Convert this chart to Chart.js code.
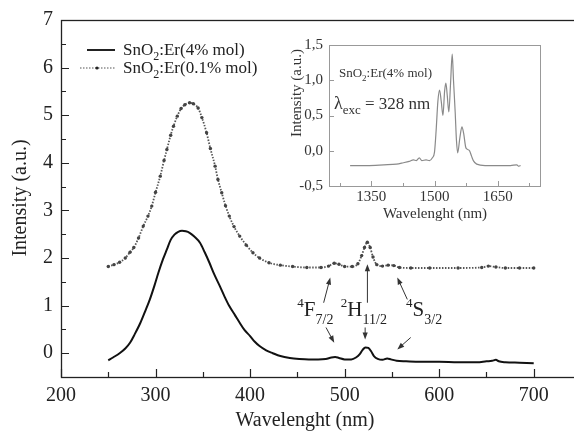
<!DOCTYPE html>
<html>
<head>
<meta charset="utf-8">
<script src="https://cdn.jsdelivr.net/npm/chart.js@4.4.1/dist/chart.umd.min.js"></script>
<style>
  html, body { margin: 0; padding: 0; background: #fff; overflow: hidden; }
  #wrap { position: relative; width: 574px; height: 431px; overflow: hidden; }
  #mainChart { position: absolute; left: 0; top: 0; }
  #insetChart { position: absolute; left: 290px; top: 30px; }
</style>
</head>
<body>
<div id="wrap">
  <canvas id="mainChart" width="585" height="431"></canvas>
  <canvas id="insetChart" width="262" height="195"></canvas>
</div>
<script>
// values
const wl4 = [250, 255, 262, 268, 273, 278, 284, 289, 294, 299, 303, 308, 312, 316, 320, 324, 328, 332, 336, 341,
  347, 352, 357, 362, 368, 373, 378, 384, 389, 394, 400, 405, 410, 417, 424, 432, 442, 452, 462, 472,
  480, 486, 490, 494, 500, 507, 512, 516, 519, 522, 525, 528, 531, 535, 540, 545, 549, 555, 565, 580,
  600, 620, 640, 650, 656, 660, 663, 670, 685, 700];
const int4 = [-0.15, -0.09, 0.00, 0.10, 0.22, 0.40, 0.64, 0.88, 1.13, 1.43, 1.69, 1.98, 2.18, 2.38, 2.49, 2.55, 2.57, 2.56, 2.53, 2.45,
  2.32, 2.12, 1.90, 1.66, 1.41, 1.19, 0.99, 0.80, 0.64, 0.49, 0.36, 0.24, 0.15, 0.06, 0.00, -0.06, -0.10, -0.12, -0.13, -0.13,
  -0.12, -0.09, -0.08, -0.10, -0.13, -0.13, -0.09, -0.02, 0.07, 0.12, 0.11, 0.04, -0.06, -0.12, -0.14, -0.11, -0.13, -0.16, -0.17, -0.18,
  -0.18, -0.19, -0.19, -0.17, -0.16, -0.14, -0.17, -0.19, -0.20, -0.21];

const wl01 = [250, 256, 262, 268, 273, 277, 282, 287, 292, 296, 300, 305, 309, 312, 316, 319, 323, 327, 331, 336,
  340, 345, 349, 354, 358, 363, 366, 370, 374, 378, 383, 389, 396, 403, 410, 420, 432, 445, 460, 475,
  483, 489, 494, 500, 508, 514, 518, 521, 524, 527, 530, 534, 540, 546, 552, 558, 570, 590, 620, 645,
  652, 660, 670, 685, 700];
const int01 = [1.82, 1.86, 1.91, 2.00, 2.12, 2.22, 2.42, 2.67, 2.88, 3.09, 3.38, 3.72, 4.05, 4.28, 4.58, 4.77, 4.98, 5.14, 5.22, 5.26,
  5.24, 5.15, 4.95, 4.63, 4.30, 3.93, 3.65, 3.37, 3.10, 2.88, 2.66, 2.46, 2.27, 2.11, 2.00, 1.90, 1.85, 1.82, 1.80, 1.80,
  1.83, 1.89, 1.87, 1.82, 1.82, 1.88, 2.05, 2.22, 2.33, 2.22, 2.02, 1.86, 1.83, 1.85, 1.84, 1.80, 1.79, 1.79, 1.79, 1.80,
  1.83, 1.81, 1.79, 1.79, 1.79];

const insetWl = [1300, 1340, 1380, 1410, 1426, 1440, 1450, 1457, 1464, 1470, 1480, 1488, 1495, 1500, 1504, 1508, 1512, 1516, 1520, 1524,
  1527, 1530, 1534, 1538, 1542, 1545, 1549, 1552, 1555, 1560, 1565, 1569, 1574, 1578, 1583, 1588, 1592, 1600, 1620, 1650,
  1680, 1695, 1700, 1704];
const insetInt = [-0.21, -0.21, -0.20, -0.19, -0.17, -0.15, -0.13, -0.14, -0.10, -0.14, -0.13, -0.14, -0.10, -0.02, 0.30, 0.70, 0.86, 0.70, 0.50, 0.85,
  0.96, 0.80, 0.55, 0.95, 1.37, 1.00, 0.55, 0.15, -0.03, 0.18, 0.34, 0.25, 0.05, 0.02, 0.00, -0.08, -0.14, -0.19, -0.21, -0.21,
  -0.21, -0.20, -0.22, -0.21];

const seriesNames = ['SnO2:Er(4% mol)', 'SnO2:Er(0.1% mol)'];
const xTicks = [200, 300, 400, 500, 600, 700];
const xMinor = [250, 350, 450, 550, 650, 750];
const yTicks = [0, 1, 2, 3, 4, 5, 6, 7];
const yMinor = [-0.5, 0.5, 1.5, 2.5, 3.5, 4.5, 5.5, 6.5];
const insetXTicks = [1350, 1500, 1650];
const insetXMinor = [1275, 1425, 1575, 1725];
const insetYTicks = [-0.5, 0, 0.5, 1, 1.5];
const insetYTickLabels = ['-0,5', '0,0', '0,5', '1,0', '1,5'];

// transitions marked on the main plot: [superscript, letter, subscript]
const levels = [['4', 'F', '7/2'], ['2', 'H', '11/2'], ['4', 'S', '3/2']];

const SERIF = '"Liberation Serif", "Times New Roman", serif';
Chart.defaults.font.family = SERIF;

function pts(xs, ys) {
  return xs.map((v, i) => ({ x: v, y: ys[i] }));
}

function drawRich(ctx, parts, x, y) {
  let cx = x;
  parts.forEach(([t, size, dy]) => {
    ctx.font = size + 'px ' + SERIF;
    ctx.fillText(t, cx, y + (dy || 0));
    cx += ctx.measureText(t).width;
  });
  return cx;
}

function chemParts(name, size) {
  const m = name.match(/^(.*?O)(2)(.*)$/);
  return [[m[1], size], [m[2], Math.round(size * 0.72), Math.round(size * 0.28)], [m[3], size]];
}

function drawTicks(chart, o) {
  const { ctx, chartArea: a, scales: { x, y } } = chart;
  ctx.beginPath();
  o.xMajor.forEach(v => { const p = Math.round(x.getPixelForValue(v)) + 0.5; ctx.moveTo(p, a.bottom); ctx.lineTo(p, a.bottom - o.major); });
  o.xMinor.forEach(v => { const p = Math.round(x.getPixelForValue(v)) + 0.5; ctx.moveTo(p, a.bottom); ctx.lineTo(p, a.bottom - o.minor); });
  o.yMajor.forEach(v => { const p = Math.round(y.getPixelForValue(v)) + 0.5; ctx.moveTo(a.left, p); ctx.lineTo(a.left + o.major, p); });
  o.yMinor.forEach(v => { const p = Math.round(y.getPixelForValue(v)) + 0.5; ctx.moveTo(a.left, p); ctx.lineTo(a.left + o.minor, p); });
  ctx.stroke();
}

function arrow(ctx, x1, y1, x2, y2) {
  const ang = Math.atan2(y2 - y1, x2 - x1);
  ctx.beginPath();
  ctx.moveTo(x1, y1);
  ctx.lineTo(x2 - 4 * Math.cos(ang), y2 - 4 * Math.sin(ang));
  ctx.stroke();
  ctx.beginPath();
  ctx.moveTo(x2, y2);
  ctx.lineTo(x2 - 7 * Math.cos(ang) + 2.6 * Math.sin(ang), y2 - 7 * Math.sin(ang) - 2.6 * Math.cos(ang));
  ctx.lineTo(x2 - 7 * Math.cos(ang) - 2.6 * Math.sin(ang), y2 - 7 * Math.sin(ang) + 2.6 * Math.cos(ang));
  ctx.closePath();
  ctx.fill();
}

const mainDecor = {
  id: 'mainDecor',
  afterDraw(chart) {
    const { ctx, chartArea: a, scales: { x, y } } = chart;
    ctx.save();
    ctx.strokeStyle = '#222';
    ctx.fillStyle = '#222';
    ctx.lineWidth = 1.3;
    ctx.strokeRect(a.left + 0.5, a.top + 0.5, a.right - a.left, a.bottom - a.top);
    ctx.lineWidth = 1.2;
    drawTicks(chart, { xMajor: xTicks, xMinor: xMinor, yMajor: yTicks, yMinor: yMinor, major: 8, minor: 5 });

    // axis titles
    ctx.font = '20px ' + SERIF;
    ctx.textAlign = 'center';
    ctx.textBaseline = 'alphabetic';
    ctx.fillText('Wavelenght (nm)', 305, 426);
    ctx.save();
    ctx.translate(26, 198);
    ctx.rotate(-Math.PI / 2);
    ctx.fillText('Intensity (a.u.)', 0, 0);
    ctx.restore();

    // legend
    ctx.textAlign = 'left';
    const lx = a.left, ty = a.top;
    ctx.lineWidth = 2;
    ctx.beginPath(); ctx.moveTo(lx + 26, ty + 30); ctx.lineTo(lx + 54, ty + 30); ctx.stroke();
    drawRich(ctx, chemParts(seriesNames[0], 17), lx + 62, ty + 35);
    ctx.lineWidth = 1.2;
    ctx.strokeStyle = '#555';
    ctx.setLineDash([1.5, 1.5]);
    ctx.beginPath(); ctx.moveTo(lx + 19, ty + 48); ctx.lineTo(lx + 54, ty + 48); ctx.stroke();
    ctx.setLineDash([]);
    ctx.strokeStyle = '#222';
    ctx.beginPath(); ctx.arc(lx + 36, ty + 48, 1.6, 0, Math.PI * 2); ctx.fill();
    drawRich(ctx, chemParts(seriesNames[1], 17), lx + 62, ty + 53);

    // transition labels, placed in data units
    const labelAt = [[450, 0.78], [496, 0.78], [565, 0.78]];
    levels.forEach((lv, i) => {
      const px = x.getPixelForValue(labelAt[i][0]);
      const py = y.getPixelForValue(labelAt[i][1]);
      drawRich(ctx, [[lv[0], 13, -9], [lv[1], 21], [lv[2], 14, 8]], px, py);
    });

    // arrows, in data units
    const arrows = [
      [477.8, 1.06, 484.8, 1.59], [480.3, 0.54, 489.0, 0.22],
      [524.1, 1.06, 524.1, 1.87], [521.7, 0.54, 521.7, 0.29],
      [566.3, 1.13, 555.7, 1.59], [569.9, 0.33, 555.7, 0.08]
    ];
    ctx.lineWidth = 1;
    ctx.strokeStyle = '#333';
    ctx.fillStyle = '#333';
    arrows.forEach(r => arrow(ctx, x.getPixelForValue(r[0]), y.getPixelForValue(r[1]), x.getPixelForValue(r[2]), y.getPixelForValue(r[3])));
    ctx.restore();
  }
};

new Chart(document.getElementById('mainChart'), {
  type: 'line',
  data: {
    datasets: [
      {
        label: seriesNames[0],
        data: pts(wl4, int4),
        borderColor: '#111',
        borderWidth: 2,
        pointRadius: 0,
        cubicInterpolationMode: 'monotone'
      },
      {
        label: seriesNames[1],
        data: pts(wl01, int01),
        borderColor: '#555',
        borderWidth: 1.8,
        borderDash: [1.5, 1.5],
        pointRadius: 1.7,
        pointBorderWidth: 0,
        pointBackgroundColor: '#444',
        cubicInterpolationMode: 'monotone'
      }
    ]
  },
  options: {
    responsive: false,
    animation: false,
    devicePixelRatio: 1,
    layout: { padding: { top: 20, right: 2, left: 0, bottom: 0 } },
    plugins: { legend: { display: false }, tooltip: { enabled: false } },
    scales: {
      x: {
        type: 'linear', min: 200, max: 750,
        grid: { display: false, drawTicks: false },
        border: { display: false },
        afterBuildTicks: s => { s.ticks = xTicks.map(v => ({ value: v })); },
        afterFit: s => { s.height = 54; },
        ticks: { color: '#222', font: { size: 20 }, padding: 7, maxRotation: 0, callback: v => String(v) }
      },
      y: {
        type: 'linear', min: -0.5, max: 7,
        grid: { display: false, drawTicks: false },
        border: { display: false },
        afterBuildTicks: s => { s.ticks = yTicks.map(v => ({ value: v })); },
        afterFit: s => { s.width = 61; },
        ticks: { color: '#222', font: { size: 20 }, padding: 8, callback: v => String(v) }
      }
    }
  },
  plugins: [mainDecor]
});

const insetDecor = {
  id: 'insetDecor',
  afterDraw(chart) {
    const { ctx, chartArea: a } = chart;
    ctx.save();
    ctx.strokeStyle = '#999';
    ctx.lineWidth = 1;
    ctx.strokeRect(a.left + 0.5, a.top + 0.5, a.right - a.left, a.bottom - a.top);
    drawTicks(chart, { xMajor: insetXTicks, xMinor: insetXMinor, yMajor: insetYTicks, yMinor: [], major: 5, minor: 3 });
    ctx.fillStyle = '#333';
    ctx.font = '15px ' + SERIF;
    ctx.textAlign = 'center';
    ctx.fillText('Wavelenght (nm)', 145, 188);
    ctx.save();
    ctx.translate(11, 63);
    ctx.rotate(-Math.PI / 2);
    ctx.fillText('Intensity (a.u.)', 0, 0);
    ctx.restore();
    ctx.textAlign = 'left';
    drawRich(ctx, chemParts(seriesNames[0], 13), a.left + 10, a.top + 32);
    drawRich(ctx, [['\u03bb', 18], ['exc', 13, 5], [' = 328 nm', 17]], a.left + 5, a.top + 64);
    ctx.restore();
  }
};

new Chart(document.getElementById('insetChart'), {
  type: 'line',
  data: {
    datasets: [{
      label: seriesNames[0],
      data: pts(insetWl, insetInt),
      borderColor: '#8a8a8a',
      borderWidth: 1.2,
      pointRadius: 0,
      cubicInterpolationMode: 'monotone'
    }]
  },
  options: {
    responsive: false,
    animation: false,
    devicePixelRatio: 1,
    layout: { padding: { top: 11, right: 12, left: 0, bottom: 0 } },
    plugins: { legend: { display: false }, tooltip: { enabled: false } },
    scales: {
      x: {
        type: 'linear', min: 1250, max: 1750,
        grid: { display: false, drawTicks: false },
        border: { display: false },
        afterBuildTicks: s => { s.ticks = insetXTicks.map(v => ({ value: v })); },
        afterFit: s => { s.height = 39; },
        ticks: { color: '#333', font: { size: 15 }, padding: 2, maxRotation: 0, callback: v => String(v) }
      },
      y: {
        type: 'linear', min: -0.5, max: 1.5,
        grid: { display: false, drawTicks: false },
        border: { display: false },
        afterBuildTicks: s => { s.ticks = insetYTicks.map(v => ({ value: v })); },
        afterFit: s => { s.width = 39; },
        ticks: { color: '#333', font: { size: 15 }, padding: 6, callback: (v, i) => insetYTickLabels[i] }
      }
    }
  },
  plugins: [insetDecor]
});
</script>
</body>
</html>
